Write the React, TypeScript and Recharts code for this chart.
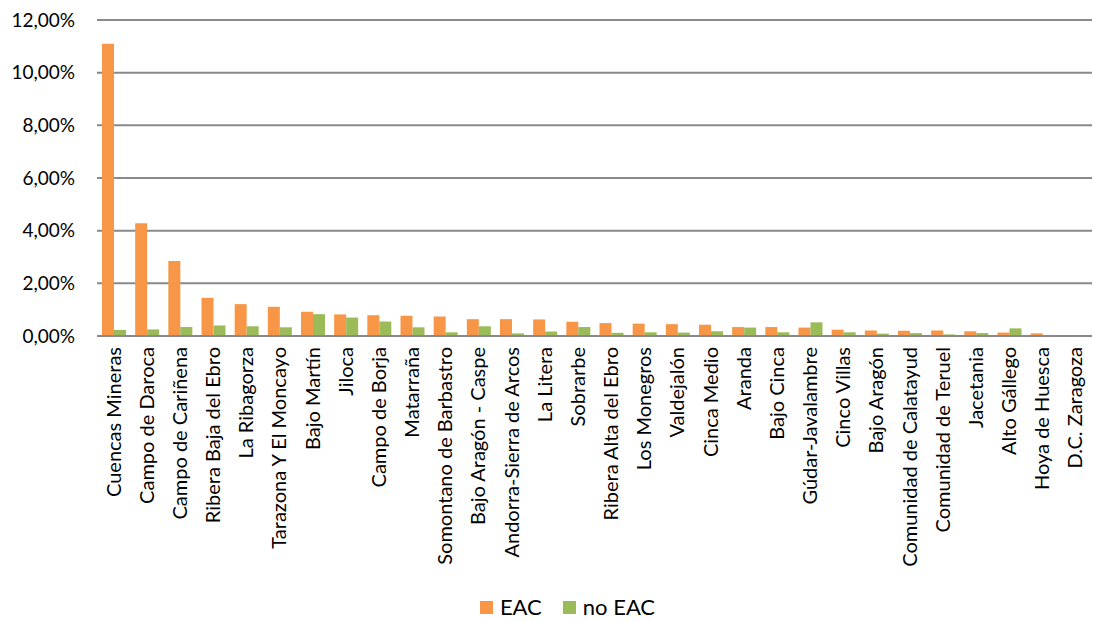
import { BarChart, Bar, XAxis, YAxis, CartesianGrid, Legend } from "recharts";

if (typeof document !== "undefined") document.body.style.margin = "0";

const comarcas = [
  "Cuencas Mineras",
  "Campo de Daroca",
  "Campo de Cariñena",
  "Ribera Baja del Ebro",
  "La Ribagorza",
  "Tarazona Y El Moncayo",
  "Bajo Martín",
  "Jiloca",
  "Campo de Borja",
  "Matarraña",
  "Somontano de Barbastro",
  "Bajo Aragón - Caspe",
  "Andorra-Sierra de Arcos",
  "La Litera",
  "Sobrarbe",
  "Ribera Alta del Ebro",
  "Los Monegros",
  "Valdejalón",
  "Cinca Medio",
  "Aranda",
  "Bajo Cinca",
  "Gúdar-Javalambre",
  "Cinco Villas",
  "Bajo Aragón",
  "Comunidad de Calatayud",
  "Comunidad de Teruel",
  "Jacetania",
  "Alto Gállego",
  "Hoya de Huesca",
  "D.C. Zaragoza",
];

const eac = [
  11.1, 4.28, 2.85, 1.45, 1.21, 1.11, 0.92, 0.82, 0.79, 0.77, 0.74, 0.64, 0.64,
  0.63, 0.54, 0.49, 0.47, 0.45, 0.43, 0.34, 0.34, 0.32, 0.24, 0.21, 0.2, 0.21,
  0.18, 0.13, 0.1, 0,
];

const noEac = [
  0.23, 0.25, 0.34, 0.4, 0.37, 0.33, 0.83, 0.7, 0.55, 0.33, 0.14, 0.37, 0.1,
  0.17, 0.34, 0.12, 0.14, 0.13, 0.18, 0.32, 0.14, 0.52, 0.14, 0.09, 0.11, 0.06,
  0.11, 0.29, 0.02, 0,
];

const yTicks = [0, 2, 4, 6, 8, 10, 12];

const data = comarcas.map((name, i) => ({ name, eac: eac[i], noEac: noEac[i] }));

const FONT = "Lato, sans-serif";

function fmtPct(v: number) {
  return `${v.toFixed(2).replace(".", ",")}%`;
}

function RotatedTick({ x, y, payload }: { x?: number; y?: number; payload?: { value: string } }) {
  return (
    <text
      transform={`translate(${x},${(y ?? 0) + 3}) rotate(-90)`}
      textAnchor="end"
      dy="0.35em"
      fill="#000"
      fontSize={20}
      fontFamily={FONT}
    >
      {payload?.value}
    </text>
  );
}

function LegendBox() {
  const items = [
    { label: "EAC", color: "#F79646" },
    { label: "no EAC", color: "#9BBB59" },
  ];
  return (
    <div style={{ display: "flex", justifyContent: "center", gap: 21, marginLeft: 42, fontFamily: FONT, fontSize: 22, lineHeight: "26px" }}>
      {items.map((it) => (
        <div key={it.label} style={{ display: "flex", alignItems: "center", gap: 7 }}>
          <div style={{ width: 13, height: 13, background: it.color }} />
          <span>{it.label}</span>
        </div>
      ))}
    </div>
  );
}

export default function App() {
  return (
    <BarChart
      width={1093}
      height={621}
      data={data}
      margin={{ top: 20, right: 1, bottom: 0, left: 0 }}
      barGap={0}
      barSize={12}
    >
      <CartesianGrid vertical={false} stroke="#898989" strokeWidth={2} />
      <XAxis
        dataKey="name"
        interval={0}
        height={245}
        tickLine={false}
        axisLine={{ stroke: "#898989", strokeWidth: 2 }}
        tick={<RotatedTick />}
      />
      <YAxis
        width={97}
        domain={[0, 12]}
        ticks={yTicks}
        tickFormatter={fmtPct}
        axisLine={false}
        tickLine={false}
        tickMargin={16}
        tick={{ fill: "#000", fontSize: 19, fontFamily: FONT }}
      />
      <Legend
        verticalAlign="bottom"
        height={40}
        content={<LegendBox />}
        wrapperStyle={{ top: 594, bottom: "auto", left: 0, width: 1093 }}
      />
      <Bar dataKey="eac" name="EAC" fill="#F79646" isAnimationActive={false} />
      <Bar dataKey="noEac" name="no EAC" fill="#9BBB59" isAnimationActive={false} />
    </BarChart>
  );
}
